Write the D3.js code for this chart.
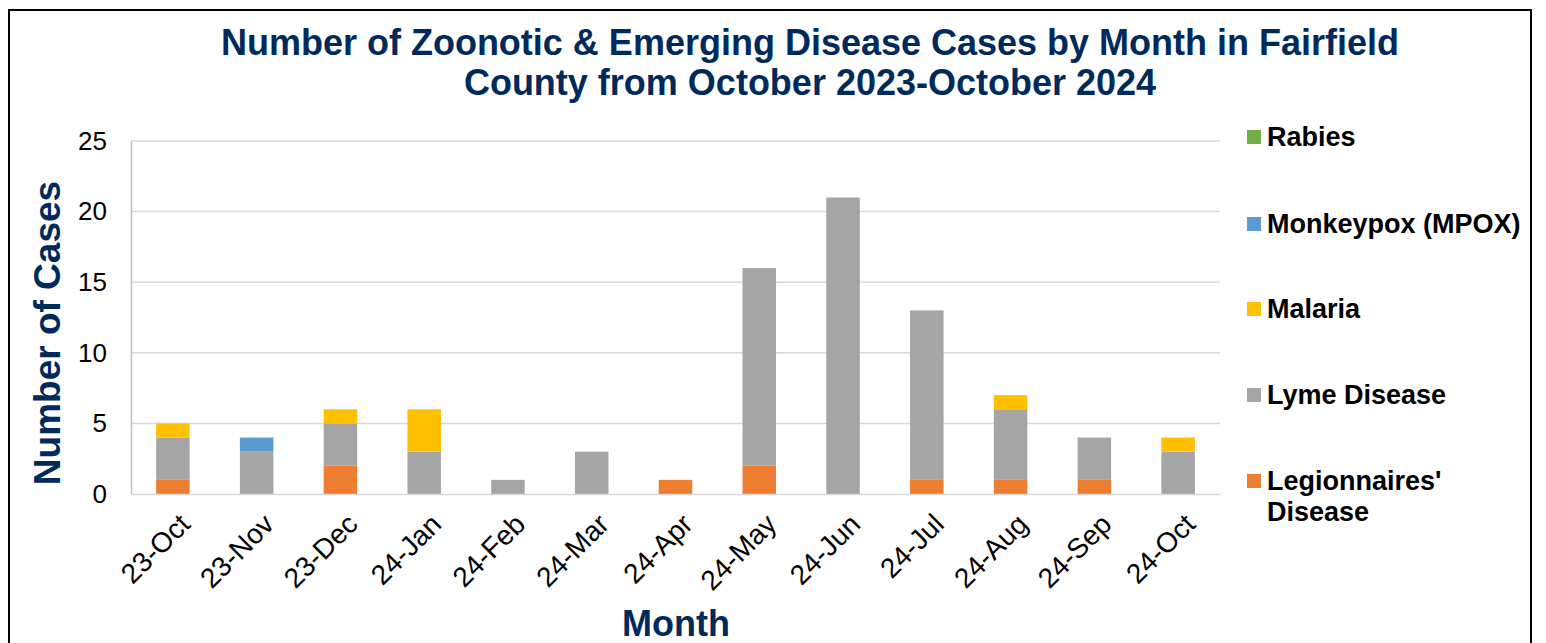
<!DOCTYPE html>
<html>
<head>
<meta charset="utf-8">
<script src="https://cdn.jsdelivr.net/npm/d3@7"></script>
<style>
  body { margin: 0; background: #fff; }
  text { font-family: Arial, "Liberation Sans", sans-serif; }
</style>
</head>
<body>
<div id="chart"></div>
<script>
// months on the x axis
const months = ['23-Oct', '23-Nov', '23-Dec', '24-Jan', '24-Feb', '24-Mar', '24-Apr',
                '24-May', '24-Jun', '24-Jul', '24-Aug', '24-Sep', '24-Oct'];

// series values, bottom to top of the stack
const legionnaires = [1, 0, 2, 0, 0, 0, 1, 2, 0, 1, 1, 1, 0];
const lyme         = [3, 3, 3, 3, 1, 3, 0, 14, 21, 12, 5, 3, 3];
const malaria      = [1, 0, 1, 3, 0, 0, 0, 0, 0, 0, 1, 0, 1];
const monkeypox    = [0, 1, 0, 0, 0, 0, 0, 0, 0, 0, 0, 0, 0];
const rabies       = [0, 0, 0, 0, 0, 0, 0, 0, 0, 0, 0, 0, 0];

const seriesKeys = ['Legionnaires', 'Lyme', 'Malaria', 'Monkeypox', 'Rabies'];
const seriesNames = ["Legionnaires' Disease", 'Lyme Disease', 'Malaria', 'Monkeypox (MPOX)', 'Rabies'];
const colors = ['#ED7D31', '#A5A5A5', '#FFC000', '#5B9BD5', '#70AD47'];
const yTicks = [0, 5, 10, 15, 20, 25];

const width = 1546, height = 643;
const margin = { top: 141, left: 131, right: 326, bottom: 149 };
const innerW = width - margin.left - margin.right;
const innerH = height - margin.top - margin.bottom;
const navy = '#002A5C';

const svg = d3.select('#chart').append('svg')
    .attr('width', width)
    .attr('height', height);

// outer frame
svg.append('rect')
    .attr('x', 9).attr('y', 10)
    .attr('width', 1522).attr('height', 660)
    .attr('fill', 'none')
    .attr('stroke', '#000')
    .attr('stroke-width', 2);

// build table for the stack
const table = months.map((m, i) => ({
    month: m,
    Legionnaires: legionnaires[i],
    Lyme: lyme[i],
    Malaria: malaria[i],
    Monkeypox: monkeypox[i],
    Rabies: rabies[i]
}));
const stacked = d3.stack().keys(seriesKeys)(table);

const x = d3.scaleBand()
    .domain(months)
    .range([0, innerW])
    .paddingInner(0.6)
    .paddingOuter(0.3);

const y = d3.scaleLinear()
    .domain([0, 25])
    .range([innerH, 0]);

const chart = svg.append('g')
    .attr('transform', `translate(${margin.left},${margin.top})`);

// gridlines
chart.append('g')
    .selectAll('line')
    .data(yTicks.filter(d => d > 0))
    .enter().append('line')
    .attr('x1', 0).attr('x2', innerW)
    .attr('y1', d => y(d)).attr('y2', d => y(d))
    .attr('stroke', '#D9D9D9')
    .attr('stroke-width', 1.5);

// bars
chart.append('g').selectAll('g')
    .data(stacked)
    .enter().append('g')
    .attr('fill', (d, i) => colors[i])
    .selectAll('rect')
    .data(d => d)
    .enter().append('rect')
    .attr('x', d => x(d.data.month))
    .attr('y', d => y(d[1]))
    .attr('width', x.bandwidth())
    .attr('height', d => y(d[0]) - y(d[1]));

// y axis
const yAxis = d3.axisLeft(y).tickValues(yTicks).tickSize(0).tickPadding(24);
const yAxisG = chart.append('g').call(yAxis);
yAxisG.select('.domain').attr('stroke', '#BFBFBF').attr('stroke-width', 1.5);
yAxisG.selectAll('text')
    .attr('font-size', 26)
    .attr('fill', '#000')
    .style('font-family', 'Arial, "Liberation Sans", sans-serif');

// x axis
const xAxis = d3.axisBottom(x).tickSize(0).tickSizeOuter(0);
const xAxisG = chart.append('g')
    .attr('transform', `translate(0,${innerH})`)
    .call(xAxis);
xAxisG.select('.domain').attr('stroke', '#D9D9D9').attr('stroke-width', 1.5);
xAxisG.selectAll('text')
    .attr('font-size', 28)
    .attr('fill', '#000')
    .style('font-family', 'Arial, "Liberation Sans", sans-serif')
    .attr('text-anchor', 'end')
    .attr('dy', '0.35em')
    .attr('y', 0)
    .attr('transform', 'translate(12,25) rotate(-45)');

// title
const title = svg.append('text')
    .attr('text-anchor', 'middle')
    .attr('font-size', 36)
    .attr('font-weight', 'bold')
    .attr('fill', navy);
title.append('tspan').attr('x', 810).attr('y', 55)
    .text('Number of Zoonotic & Emerging Disease Cases by Month in Fairfield');
title.append('tspan').attr('x', 810).attr('y', 95)
    .text('County from October 2023-October 2024');

// axis titles
svg.append('text')
    .attr('transform', 'translate(60,333) rotate(-90)')
    .attr('text-anchor', 'middle')
    .attr('font-size', 37)
    .attr('font-weight', 'bold')
    .attr('fill', navy)
    .text('Number of Cases');

svg.append('text')
    .attr('x', 676).attr('y', 636)
    .attr('text-anchor', 'middle')
    .attr('font-size', 36)
    .attr('font-weight', 'bold')
    .attr('fill', navy)
    .text('Month');

// legend, top to bottom = reverse of stack order
const legendY = [137, 224, 309, 395, 481];
const legendItems = seriesNames.map((n, i) => ({ name: n, color: colors[i] })).reverse();
const legend = svg.append('g')
    .selectAll('g')
    .data(legendItems)
    .enter().append('g')
    .attr('transform', (d, i) => `translate(1247,${legendY[i]})`);

legend.append('rect')
    .attr('x', 0).attr('y', -7)
    .attr('width', 14).attr('height', 14)
    .attr('fill', d => d.color);

legend.append('text')
    .attr('x', 20)
    .attr('font-size', 27)
    .attr('font-weight', 'bold')
    .attr('fill', '#000')
    .each(function(d) {
        const parts = d.name === "Legionnaires' Disease" ? ["Legionnaires'", 'Disease'] : [d.name];
        const t = d3.select(this);
        parts.forEach((p, j) => {
            t.append('tspan').attr('x', 20).attr('y', 9 + j * 31).text(p);
        });
    });
</script>
</body>
</html>
